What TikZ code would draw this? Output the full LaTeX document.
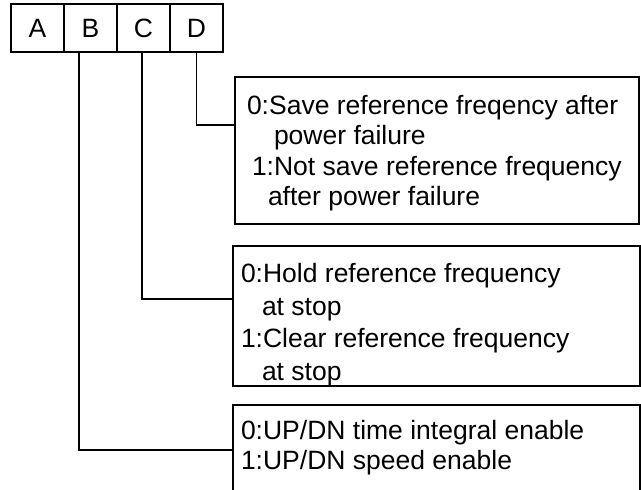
\documentclass[tikz,border=0pt]{standalone}
\usepackage{fontspec}
\setmainfont{Liberation Sans}
\usetikzlibrary{positioning}

\begin{document}
\begin{tikzpicture}[x=1pt,y=-1pt,
  cell/.style={draw,line width=1.1pt,minimum width=53pt,minimum height=48pt,inner sep=0pt,outer sep=0pt,font=\fontsize{26.5}{30}\selectfont},
  optbox/.style={draw,line width=1.1pt,inner sep=0pt,outer sep=0pt},
  txt/.style={align=left,inner sep=0pt,outer sep=0pt,font=\fontsize{26.5}{30.5}\selectfont},
  wire/.style={line width=1.1pt}]

  \useasboundingbox (0,0) rectangle (641,490);

  \node[cell] (cA) at (37.5,28) {A};
  \node[cell] (cB) [right=0pt of cA] {B};
  \node[cell] (cC) [right=0pt of cB] {C};
  \node[cell] (cD) [right=0pt of cC] {D};

  \node[optbox,minimum width=404pt,minimum height=147pt] (o1) at (437,150.5) {};
  \node[optbox,minimum width=407pt,minimum height=140pt] (o2) at (436.5,316) {};
  \node[optbox,minimum width=407pt,minimum height=90pt] (o3) at (436.5,450) {};

  \node[txt] (t1) [below right=18pt and 12pt of o1.north west]
    {0:Save reference freqency after\\\hspace*{27pt}power failure\\\hspace*{5pt}1:Not save reference frequency\\\hspace*{21pt}after power failure};
  \node[txt,font=\fontsize{26.5}{32.5}\selectfont] (t2) [below right=17.5pt and 8pt of o2.north west]
    {0:Hold reference frequency\\\hspace*{21pt}at stop\\1:Clear reference frequency\\\hspace*{21pt}at stop};
  \node[txt,font=\fontsize{26.5}{29.5}\selectfont] (t3) [below right=15.5pt and 8pt of o3.north west]
    {0:UP/DN time integral enable\\1:UP/DN speed enable};

  \draw[wire] ([xshift=-11.5pt]cB.south) |- (o3.west);
  \draw[wire] ([xshift=-1.5pt]cC.south) |- ([yshift=17pt]o2.west);
  \draw[wire] (cD.south) |- ([yshift=25.5pt]o1.west);

\end{tikzpicture}
\end{document}
